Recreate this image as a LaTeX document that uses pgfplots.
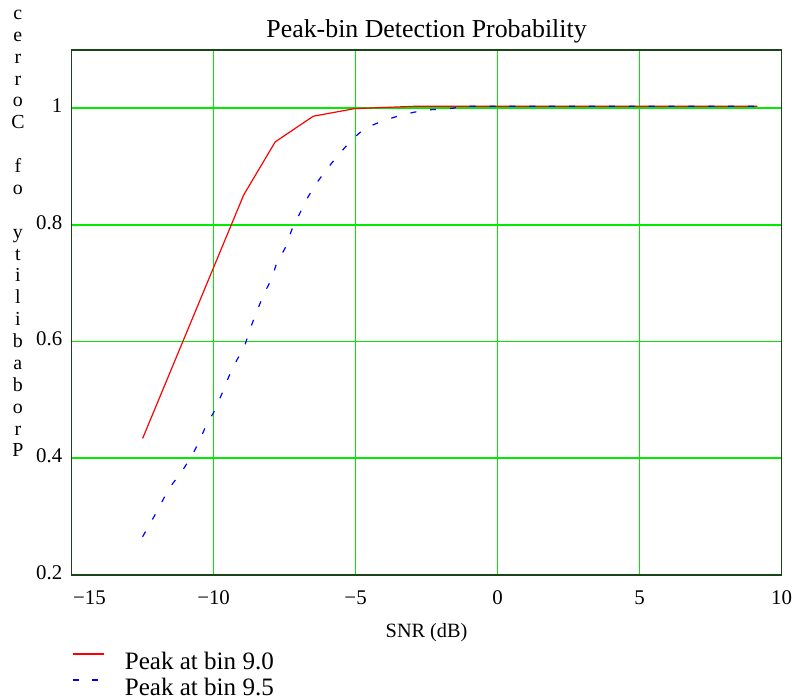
\documentclass[border=0pt]{standalone}
\usepackage{fontspec}
\setmainfont{Liberation Serif}
\usepackage{pgfplots}
\pgfplotsset{compat=1.18}
\definecolor{gridgreen}{RGB}{0,235,0}
\definecolor{framegreen}{RGB}{25,70,25}
\begin{document}
\begin{tikzpicture}
\begin{axis}[
  scale only axis,
  width=357pt, height=264pt,
  xmin=-15, xmax=10, ymin=0.2, ymax=1.1,
  xtick={-15,-10,-5,0,5,10},
  xticklabels={\hspace*{18pt}−15,−10,−5,0,5,10},
  ytick={0.2,0.4,0.6,0.8,1},
  yticklabels={0.2,0.4,0.6,0.8,1},
  major tick length=0pt,
  xmajorgrids=true, ymajorgrids=true,
  major grid style={draw=gridgreen, line width=0.8pt},
  axis line style={framegreen, line width=0.8pt},
  xticklabel style={font=\fontsize{10.5}{12}\selectfont, anchor=base, yshift=-15pt, inner sep=0pt},
  yticklabel style={font=\fontsize{10.5}{12}\selectfont, anchor=mid east, xshift=-4.5pt, inner sep=0pt},
  title={Peak-bin Detection Probability},
  title style={font=\fontsize{13}{15}\selectfont, at={(axis description cs:0.5,1)}, anchor=base, yshift=0pt, inner sep=0pt},
  xlabel={SNR (dB)},
  xlabel style={font=\fontsize{10.2}{12}\selectfont, at={(axis description cs:0.5,0)}, anchor=base, yshift=-31.5pt, inner sep=0pt},
  legend style={at={(axis description cs:0,0)}, anchor=north west, yshift=-38.5pt, draw=none, fill=none, inner sep=0pt,
    font=\fontsize{12.6}{14}\selectfont, row sep=2.9pt, column sep=10pt, nodes={inner sep=0pt}},
  legend cell align=left,
  legend image code/.code={\draw[#1] (0pt,4pt) -- (16pt,4pt);},
]
\addplot[red, line width=0.6pt] coordinates {
(-12.50,0.4335) (-8.94,0.851) (-7.83,0.942) (-6.49,0.986) (-5.03,0.999) (-2.92,1.003) (9.15,1.003)
};
\addlegendentry{Peak at bin 9.0}
\addplot[blue, line width=0.6pt, dash pattern=on 3pt off 7pt] coordinates {
(-12.5,0.265) (-12.0,0.308) (-11.57,0.348) (-11.16,0.374) (-10.81,0.400) (-10.54,0.425)
(-10.28,0.454) (-10.0,0.478) (-9.7,0.511) (-9.47,0.539) (-9.18,0.568) (-8.92,0.590)
(-8.71,0.622) (-8.48,0.651) (-8.24,0.680) (-7.95,0.708) (-7.78,0.734) (-7.48,0.760)
(-7.25,0.791) (-6.96,0.820) (-6.67,0.848) (-6.38,0.871) (-5.97,0.898) (-5.56,0.922)
(-5.15,0.945) (-4.68,0.965) (-4.1,0.977) (-3.52,0.986) (-2.93,0.993) (-2.4,0.997)
(-1.7,0.999) (-1.06,1.003) (9.15,1.003)
};
\addlegendentry{Peak at bin 9.5}
\coordinate (bl) at (rel axis cs:0,0);
\coordinate (tr) at (rel axis cs:1,1);
\coordinate (ylab) at (rel axis cs:0,0.650);
\end{axis}
\node[font=\fontsize{10}{11}\selectfont, align=center, inner sep=0pt, anchor=center] at ([xshift=-27pt]ylab)
{c\\e\\r\\r\\o\\C\\\mbox{}\\f\\o\\\mbox{}\\y\\t\\i\\l\\i\\b\\a\\b\\o\\r\\P};
\path ([xshift=-36pt,yshift=-62pt]bl) rectangle ([xshift=3pt,yshift=25pt]tr);
\end{tikzpicture}
\end{document}
